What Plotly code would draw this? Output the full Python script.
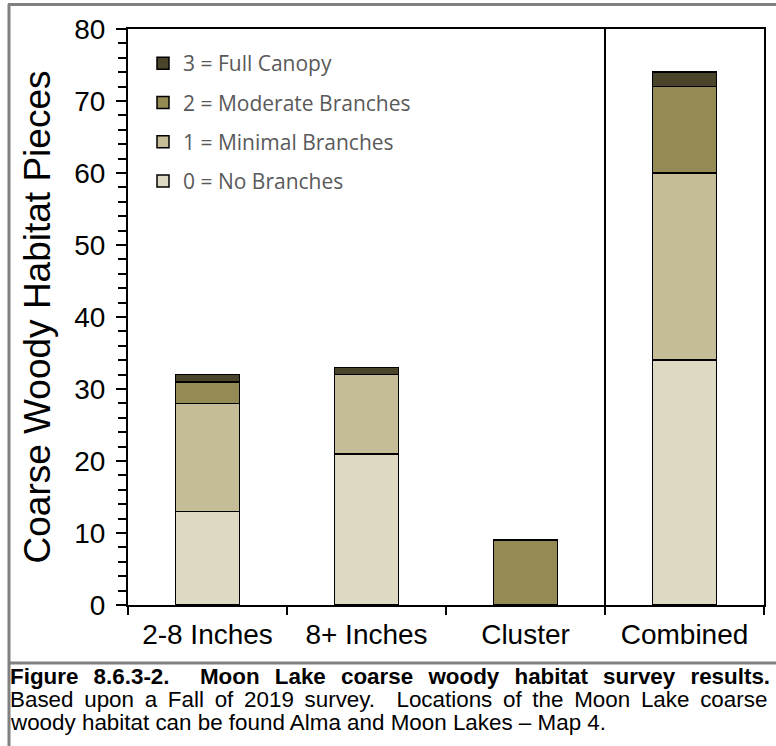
import plotly.graph_objects as go

# ---------------- Data ----------------
categories = ["2-8 Inches", "8+ Inches", "Cluster", "Combined"]
no_branches = [13, 21, 0, 34]
minimal_branches = [15, 11, 0, 26]
moderate_branches = [3, 0, 9, 12]
full_canopy = [1, 1, 0, 2]

series = [
    ("0 = No Branches", no_branches, "#ddd9c3"),
    ("1 = Minimal Branches", minimal_branches, "#c4bd97"),
    ("2 = Moderate Branches", moderate_branches, "#948a54"),
    ("3 = Full Canopy", full_canopy, "#4a452a"),
]

caption_title = "Figure 8.6.3-2.  Moon Lake coarse woody habitat survey results."
caption_lines = [
    "Based upon a Fall of 2019 survey.  Locations of the Moon Lake coarse",
    "woody habitat can be found Alma and Moon Lakes \u2013 Map 4.",
]

W, H = 776, 746
L, R, T, B = 128, 12, 29, 141
pw, ph = W - L - R, H - T - B


def px_x(x):
    return (x - L) / pw


def px_y(y):
    return (H - B - y) / ph


def spread(text, pad):
    # rough justification: widen every word gap
    return text.replace(" ", " " + pad)


# ---------------- Stacked bars ----------------
fig = go.Figure()
for i, (name, vals, color) in enumerate(series):
    fig.add_trace(go.Bar(
        x=categories, y=vals, name=name, legendgroup=str(i),
        legendrank=len(series) - i,
        marker=dict(color=color, line=dict(color="black", width=1.5)),
        width=0.4,
    ))

fig.update_layout(
    width=W, height=H,
    margin=dict(l=L, r=R, t=T, b=B, autoexpand=False),
    barmode="stack",
    plot_bgcolor="white", paper_bgcolor="white",
    font=dict(family="Liberation Sans, Arial", color="black"),
    showlegend=True,
    legend=dict(
        x=px_x(143), y=px_y(43), xanchor="left", yanchor="top",
        traceorder="grouped", tracegroupgap=9,
        font=dict(family="Open Sans", size=21, color="#595959"),
        bgcolor="rgba(0,0,0,0)", itemwidth=30,
    ),
)

fig.update_xaxes(
    automargin=False,
    showline=True, linecolor="black", linewidth=2, mirror=True,
    ticks="outside", tickson="boundaries", ticklen=8, tickwidth=1.5, tickcolor="black",
    tickfont=dict(size=28), ticklabelstandoff=3, showgrid=False,
)
fig.update_yaxes(
    automargin=False,
    range=[0, 80], dtick=10, showline=True, linecolor="black", linewidth=2, mirror=True,
    ticks="outside", ticklen=10, tickwidth=2, tickcolor="black",
    minor=dict(dtick=2, ticks="outside", ticklen=8, tickwidth=1.5, tickcolor="black"),
    tickfont=dict(size=28), ticklabelstandoff=5, showgrid=False, zeroline=False,
    title=dict(text="Coarse Woody Habitat Pieces", font=dict(size=37), standoff=12),
)

# separator between single classes and combined
fig.add_shape(type="line", xref="x", yref="paper", x0=2.5, x1=2.5, y0=0, y1=1,
              line=dict(color="black", width=2))

# outer gray frame (top, left) and caption divider
frame = dict(color="#808080", width=3)
fig.add_shape(type="rect", xref="paper", yref="paper", layer="above",
              x0=px_x(8), x1=px_x(790), y0=px_y(6), y1=px_y(3),
              line=dict(width=0), fillcolor="#808080")
fig.add_shape(type="line", xref="paper", yref="paper",
              x0=px_x(9), x1=px_x(9), y0=px_y(4), y1=px_y(750), line=frame)
fig.add_shape(type="line", xref="paper", yref="paper",
              x0=px_x(9), x1=px_x(790), y0=px_y(663), y1=px_y(663), line=frame)

cap_font = "Liberation Sans, Arial"
fig.add_annotation(xref="paper", yref="paper", x=px_x(8), y=px_y(676),
                   text="<b>" + spread(caption_title, "\u2009\u2009") + "</b>", showarrow=False,
                   xanchor="left", yanchor="middle", font=dict(family=cap_font, size=22.4))
fig.add_annotation(xref="paper", yref="paper", x=px_x(8), y=px_y(699),
                   text=spread(caption_lines[0], "\u2009"), showarrow=False,
                   xanchor="left", yanchor="middle", font=dict(family=cap_font, size=22.4))
fig.add_annotation(xref="paper", yref="paper", x=px_x(8), y=px_y(722),
                   text=caption_lines[1], showarrow=False,
                   xanchor="left", yanchor="middle", font=dict(family=cap_font, size=22.4))

# drop the browser's default page margin so the figure sits at the window origin
fig.write_html("out.html", config={"displayModeBar": False},
               post_script="document.body.style.margin='0';")
